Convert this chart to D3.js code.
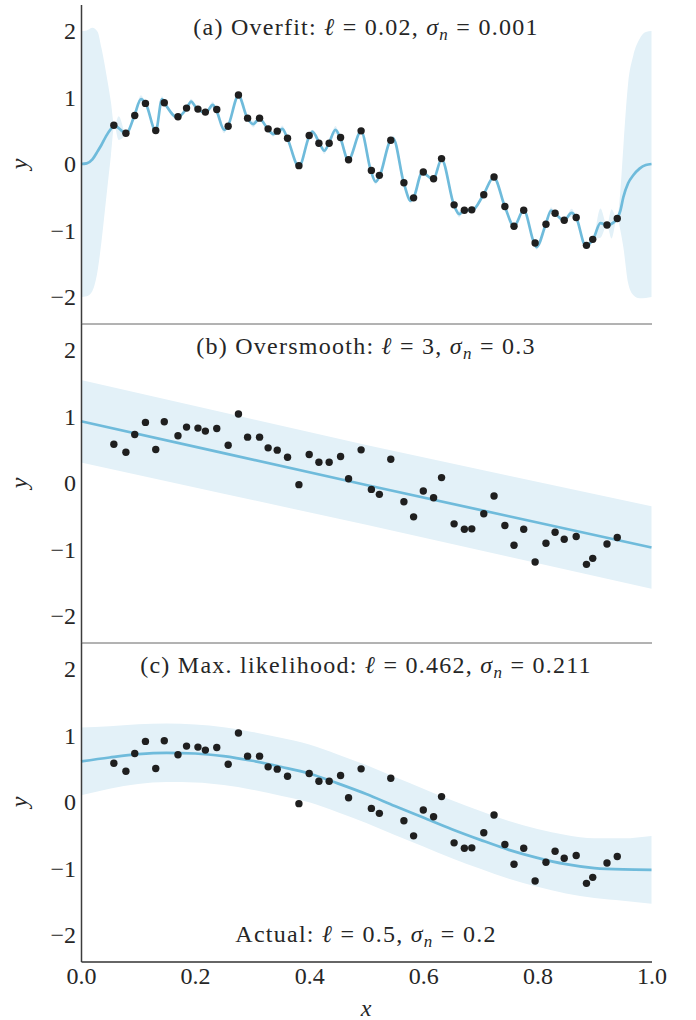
<!DOCTYPE html>
<html><head><meta charset="utf-8">
<script src="https://cdn.jsdelivr.net/npm/d3@7"></script>
<style>
body{margin:0;background:#fff}
text{font-family:"Liberation Serif","DejaVu Serif",serif;fill:#262626}
</style>
</head><body>
<svg id="chart" width="696" height="1020"></svg>
<script>
// ---- observed data points (same in every panel) ----
const xData = [0.0576,0.0787,0.0942,0.113,0.131,0.146,0.170,0.185,0.205,0.218,0.238,0.258,0.276,0.292,0.313,0.328,0.344,0.362,0.382,0.400,0.417,0.435,0.455,0.469,0.491,0.509,0.523,0.543,0.566,0.583,0.600,0.618,0.632,0.654,0.672,0.685,0.706,0.724,0.743,0.759,0.776,0.796,0.815,0.831,0.847,0.868,0.886,0.897,0.922,0.940];
const yData = [0.584,0.463,0.730,0.912,0.504,0.922,0.710,0.841,0.826,0.781,0.821,0.569,1.038,0.690,0.690,0.529,0.494,0.388,-0.025,0.428,0.312,0.312,0.398,0.065,0.499,-0.096,-0.171,0.358,-0.282,-0.509,-0.121,-0.222,0.081,-0.615,-0.695,-0.690,-0.463,-0.196,-0.640,-0.937,-0.695,-1.189,-0.907,-0.741,-0.846,-0.806,-1.224,-1.134,-0.917,-0.821];

// ---- tick labels ----
const xTicks = [0.0,0.2,0.4,0.6,0.8,1.0];
const yTicks = [-2,-1,0,1,2];

// ---- panel (a): overfit posterior mean and 2-sigma half-width ----
const overfitX = [0.000,0.010,0.020,0.029,0.036,0.044,0.0525,0.0584,0.066,0.079,0.0935,0.105,0.114,0.131,0.142,0.147,0.169,0.185,0.193,0.204,0.219,0.231,0.237,0.251,0.257,0.276,0.292,0.302,0.3125,0.328,0.337,0.344,0.353,0.362,0.382,0.400,0.4055,0.418,0.4265,0.434,0.446,0.4545,0.4685,0.491,0.508,0.5165,0.5235,0.542,0.547,0.566,0.578,0.5825,0.598,0.6175,0.632,0.654,0.663,0.671,0.686,0.705,0.7235,0.743,0.759,0.776,0.7945,0.7985,0.8145,0.824,0.831,0.8465,0.860,0.868,0.8845,0.8975,0.9105,0.922,0.930,0.9395,0.9455,0.9506,0.959,0.968,0.979,0.990,1.000];
const overfitMean = [0.00,0.01,0.07,0.19,0.29,0.42,0.53,0.578,0.54,0.46,0.724,0.976,0.90,0.498,0.975,0.91,0.70,0.835,0.94,0.82,0.775,0.89,0.814,0.513,0.56,1.026,0.683,0.60,0.683,0.52,0.45,0.478,0.528,0.38,-0.04,0.417,0.487,0.312,0.20,0.30,0.513,0.392,0.06,0.493,-0.10,-0.267,-0.181,0.352,0.387,-0.29,-0.553,-0.518,-0.13,-0.231,0.07,-0.624,-0.754,-0.70,-0.694,-0.468,-0.20,-0.643,-0.935,-0.694,-1.196,-1.25,-0.91,-0.70,-0.744,-0.85,-0.735,-0.805,-1.227,-1.136,-0.89,-0.925,-0.90,-0.825,-0.70,-0.50,-0.29,-0.17,-0.07,-0.015,0.00];
const overfitSpread = [2.0,2.0,1.98,1.8,1.45,0.95,0.4,0,0.18,0,0,0.06,0,0,0.05,0,0,0,0.04,0,0,0.05,0,0.05,0,0,0,0.05,0,0,0.04,0,0.05,0,0,0,0.03,0,0.05,0,0.06,0,0,0,0,0.04,0,0,0.04,0,0.04,0,0,0,0,0,0.05,0,0,0,0,0,0,0,0,0.04,0,0.05,0,0,0.06,0,0,0,0.22,0,0.22,0,0.3,0.75,1.5,1.8,1.95,2.0,2.0];

// ---- panel (b): oversmooth ----
const smoothX = [0,0.25,0.5,0.75,1];
const smoothMean = [0.93,0.45,-0.03,-0.50,-0.97];
const smoothSpread = [0.62,0.61,0.60,0.61,0.62];

// ---- panel (c): maximum likelihood ----
const mlX = [0,0.05,0.1,0.15,0.2,0.25,0.3,0.35,0.4,0.45,0.5,0.55,0.6,0.65,0.7,0.75,0.8,0.85,0.9,0.95,1.0];
const mlMean = [0.61,0.67,0.72,0.74,0.73,0.69,0.62,0.53,0.43,0.28,0.12,-0.06,-0.235,-0.41,-0.57,-0.72,-0.84,-0.935,-0.995,-1.015,-1.02];
const mlSpread = [0.51,0.47,0.45,0.44,0.435,0.435,0.435,0.435,0.435,0.435,0.435,0.435,0.435,0.435,0.435,0.435,0.435,0.44,0.45,0.47,0.51];

// ---- titles ----
const titleA = [["(a) Overfit: ",""],["ℓ","i"],[" = 0.02, ",""],["σ","i"],["n","sub"],[" = 0.001",""]];
const titleB = [["(b) Oversmooth: ",""],["ℓ","i"],[" = 3, ",""],["σ","i"],["n","sub"],[" = 0.3",""]];
const titleC = [["(c) Max. likelihood: ",""],["ℓ","i"],[" = 0.462, ",""],["σ","i"],["n","sub"],[" = 0.211",""]];
const noteC  = [["Actual: ",""],["ℓ","i"],[" = 0.5, ",""],["σ","i"],["n","sub"],[" = 0.2",""]];

const LINE = "#6fbbdb", BAND = "#e3f1f8", DOT = "#1f1f1f";
const svg = d3.select("#chart");
const x = d3.scaleLinear().domain([0,1]).range([81,651.5]);
const panelH = 319, firstTop = 4.5;
const FS = 24;

function rich(g, parts, cx, baseline) {
  const t = g.append("text").attr("x", cx).attr("y", baseline)
    .attr("text-anchor","middle").style("font-size", FS+"px").style("letter-spacing","1.25px");
  let shifted = false;
  parts.forEach(([s, k]) => {
    const ts = t.append("tspan").text(s);
    if (k === "i") ts.style("font-style","italic");
    if (k === "sub") { ts.style("font-style","italic").style("font-size","17px").attr("dy", 5); shifted = true; }
    else if (shifted) { ts.attr("dy", -5); shifted = false; }
  });
}

const panels = [
  {xs: overfitX, m: overfitMean, s: overfitSpread, title: titleA, curve: d3.curveMonotoneX},
  {xs: smoothX, m: smoothMean, s: smoothSpread, title: titleB, curve: d3.curveLinear},
  {xs: mlX, m: mlMean, s: mlSpread, title: titleC, curve: d3.curveMonotoneX, note: noteC}
];

panels.forEach((p, i) => {
  const top = firstTop + i*panelH, bottom = top + panelH;
  const y = d3.scaleLinear().domain([-2.4,2.4]).range([bottom, top]);
  const g = svg.append("g");
  const idx = d3.range(p.xs.length);

  g.append("path").datum(idx)
    .attr("fill", BAND)
    .attr("d", d3.area().curve(p.curve)
      .x(k => x(p.xs[k])).y0(k => y(p.m[k]-p.s[k])).y1(k => y(p.m[k]+p.s[k])));

  g.append("path").datum(idx)
    .attr("fill","none").attr("stroke", LINE).attr("stroke-width", 2.7)
    .attr("d", d3.line().curve(p.curve).x(k => x(p.xs[k])).y(k => y(p.m[k])));

  g.selectAll("circle").data(d3.range(xData.length)).join("circle")
    .attr("cx", k => x(xData[k])).attr("cy", k => y(yData[k])).attr("r", 3.7)
    .attr("fill", DOT);

  // left axis
  const ax = g.append("g").attr("transform", `translate(${x(0)},0)`)
    .call(d3.axisLeft(y).tickValues(yTicks).tickSize(0).tickSizeOuter(0).tickPadding(5)
      .tickFormat(d => d < 0 ? "\u2212" + Math.abs(d) : String(d)));
  ax.select(".domain").attr("stroke","#3c3c3c").attr("stroke-width",1.5);
  ax.selectAll("text").style("font-size", FS+"px").attr("fill","#262626");
  ax.attr("font-family", null);

  // bottom axis
  const last = i === panels.length-1;
  const bx = g.append("g").attr("transform", `translate(0,${bottom})`)
    .call(d3.axisBottom(x).tickValues(last ? xTicks : []).tickSize(0).tickSizeOuter(0).tickPadding(5)
      .tickFormat(d3.format(".1f")));
  bx.select(".domain").attr("stroke", last ? "#333" : "#666").attr("stroke-width", last ? 1.6 : 1);
  bx.selectAll("text").style("font-size", FS+"px").attr("fill","#262626");
  bx.attr("font-family", null);

  // y label
  g.append("text").attr("transform", `translate(27,${(top+bottom)/2}) rotate(-90)`)
    .attr("text-anchor","middle").style("font-size", FS+"px").style("font-style","italic").text("y");

  rich(g, p.title, 366, top + 30);
  if (p.note) rich(g, p.note, 366, top + 299);
});

svg.append("text").attr("x", 366).attr("y", 1016).attr("text-anchor","middle")
  .style("font-size", FS+"px").style("font-style","italic").text("x");
</script>
</body></html>
